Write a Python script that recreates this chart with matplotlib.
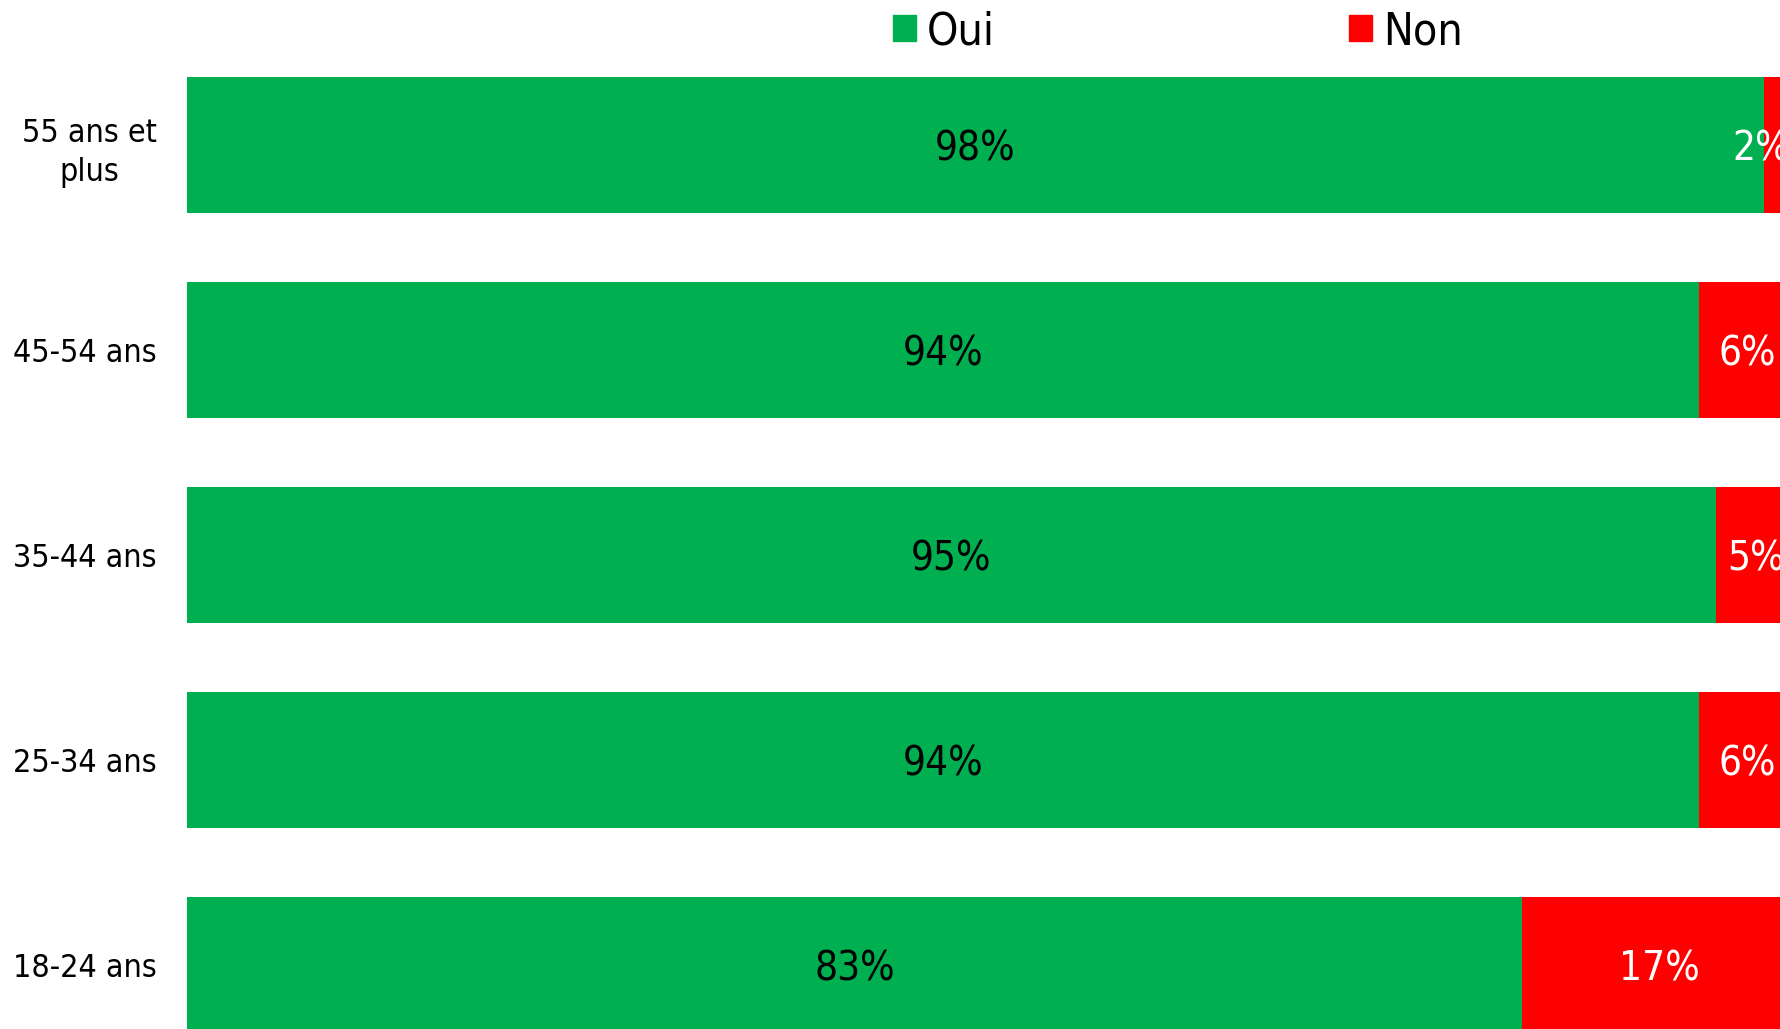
import numpy as np
from matplotlib import pyplot as plt
from matplotlib.patches import Patch

categories = ["18-24 ans", "25-34 ans", "35-44 ans", "45-54 ans", "55 ans et\nplus"]
oui = [83, 94, 95, 94, 98]
non = [17, 6, 5, 6, 2]
labels_oui = ["83%", "94%", "95%", "94%", "98%"]
labels_non = ["17%", "6%", "5%", "6%", "2%"]

GREEN = "#00B050"
RED = "#FF0000"

plt.rcParams['font.family'] = ['DejaVu Sans']
plt.rcParams['font.stretch'] = 'condensed'


def main():
    fig = plt.figure(figsize=(17.8, 10.29), dpi=100)
    ax = fig.add_axes([187 / 1780, 0, (1796 - 187) / 1780, 1])

    y = np.arange(len(categories))
    h = 136 / 205
    ax.barh(y, oui, height=h, color=GREEN, label="Oui")
    ax.barh(y, non, left=oui, height=h, color=RED, label="Non")

    for i in range(len(categories)):
        ax.text(oui[i] / 2, y[i], labels_oui[i], ha="center",
                va="center_baseline", fontsize=29, color="black")
        if non[i] < 4:
            ax.text(99.6, y[i], labels_non[i], ha="right",
                    va="center_baseline", fontsize=29, color="white")
        else:
            ax.text(oui[i] + non[i] / 2, y[i], labels_non[i], ha="center",
                    va="center_baseline", fontsize=29, color="white")

    ax.set_xlim(0, 100)
    ax.set_ylim(-64 / 205, 965 / 205)
    ax.set_yticks(y)
    ax.set_yticklabels(categories, fontsize=23)
    for t in ax.get_yticklabels():
        t.set_multialignment("center")
        t.set_linespacing(1.35)
    ax.tick_params(axis="y", length=0, pad=22)
    ax.set_xticks([])
    for s in ax.spines.values():
        s.set_visible(False)

    handles = [Patch(color=GREEN, label="Oui"), Patch(color=RED, label="Non")]
    fig.legend(handles=handles, loc="upper left", bbox_to_anchor=(853 / 1780, 1.029),
               ncol=2, frameon=False, fontsize=32, handlelength=0.52,
               handleheight=0.52, handletextpad=0.25, columnspacing=7.95)

    fig.savefig("out.png", dpi=100)


if __name__ == '__main__':
    main()
